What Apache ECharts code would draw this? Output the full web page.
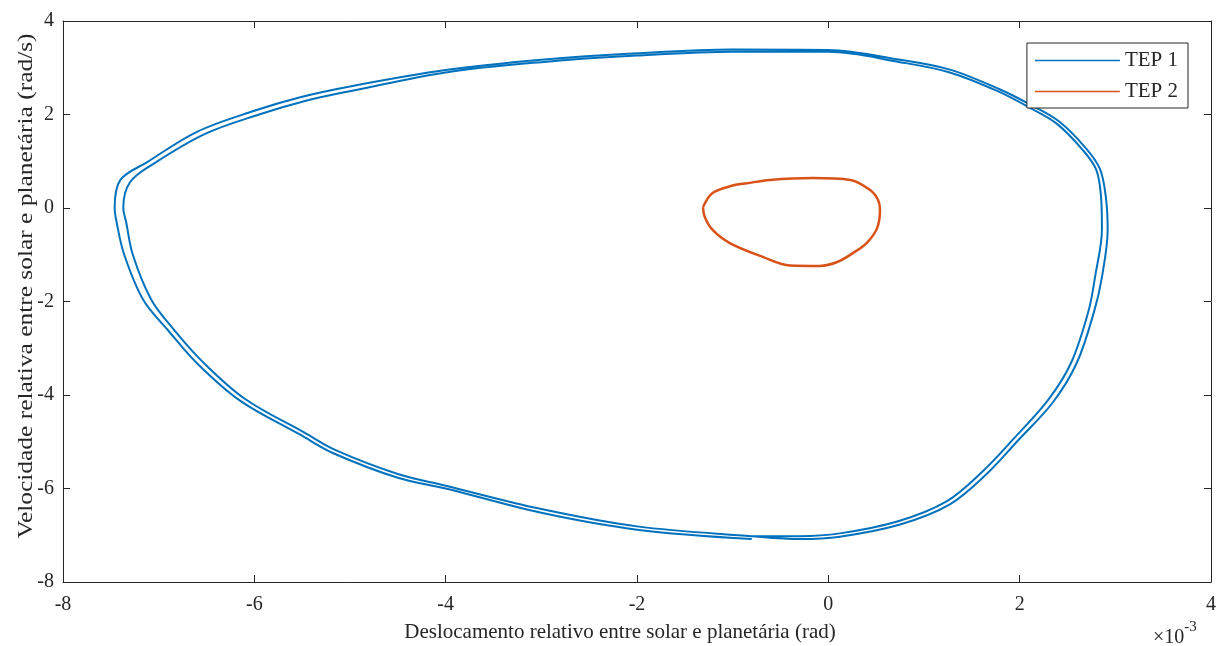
<!DOCTYPE html>
<html>
<head>
<meta charset="utf-8">
<script src="https://cdn.jsdelivr.net/npm/echarts@6/dist/echarts.min.js"></script>
<style>html,body{margin:0;padding:0;background:#fff}#c{width:1222px;height:646px}</style>
</head>
<body>
<div id="c"></div>
<script>
// x values in units of 1e-3 rad, y in rad/s
const xTicks = [-8, -6, -4, -2, 0, 2, 4];
const yTicks = [-8, -6, -4, -2, 0, 2, 4];

// TEP 1: two turns of the limit cycle (outer then inner), clockwise from the bottom
const tep1LoopA = [
  [-0.8, -7.08], [-2.0, -6.88], [-3.0, -6.52], [-4.0, -6.0], [-4.5, -5.77],
  [-5.18, -5.24], [-5.52, -4.85], [-6.15, -4.12], [-6.6, -3.32], [-6.9, -2.62],
  [-7.16, -1.97], [-7.36, -1.0], [-7.44, -0.3],
  [-7.46, 0.0], [-7.40, 0.6], [-7.12, 0.98], [-6.6, 1.63], [-6.0, 2.08], [-5.52, 2.37],
  [-5.0, 2.6], [-4.0, 2.95], [-3.0, 3.17], [-2.0, 3.31], [-1.0, 3.39], [0.0, 3.38],
  [0.75, 3.17], [1.27, 2.96], [1.79, 2.54], [2.14, 2.18], [2.42, 1.84], [2.70, 1.26],
  [2.84, 0.83], [2.90, 0.25], [2.92, -0.45], [2.86, -1.48], [2.78, -2.2], [2.6, -3.3],
  [2.35, -4.15], [1.97, -5.0], [1.66, -5.68], [1.27, -6.34], [0.75, -6.77], [0.12, -7.03],
  [-0.30, -7.08]
];
const tep1LoopB = [
  [-0.8, -7.02], [-2.0, -6.81], [-3.0, -6.44], [-4.0, -5.94], [-4.5, -5.69],
  [-5.15, -5.18], [-5.48, -4.8], [-6.1, -4.08], [-6.55, -3.27], [-6.85, -2.58],
  [-7.08, -1.95], [-7.27, -1.0], [-7.34, -0.3],
  [-7.37, 0.0], [-7.30, 0.55], [-7.05, 0.95], [-6.52, 1.58], [-5.95, 2.0], [-5.45, 2.3],
  [-4.95, 2.52], [-4.0, 2.9], [-3.0, 3.12], [-2.0, 3.26], [-1.0, 3.34], [0.0, 3.34],
  [0.75, 3.12], [1.27, 2.9], [1.77, 2.5], [2.12, 2.13], [2.39, 1.8], [2.66, 1.24],
  [2.80, 0.82], [2.85, 0.25], [2.86, -0.45], [2.79, -1.45], [2.72, -2.2], [2.54, -3.3],
  [2.30, -4.1], [1.93, -4.95], [1.62, -5.62], [1.24, -6.27], [0.73, -6.70], [0.12, -6.96],
  [-0.30, -7.02], [-0.8, -7.02]
];
const tep2Loop = [
  [-1.31, 0.02], [-1.21, 0.32], [-1.0, 0.48], [-0.85, 0.53], [-0.61, 0.6], [-0.16, 0.64],
  [0.23, 0.6], [0.44, 0.38], [0.52, 0.17], [0.54, -0.04], [0.51, -0.43], [0.40, -0.75],
  [0.26, -0.96], [0.1, -1.15], [-0.09, -1.24], [-0.4, -1.23], [-0.68, -1.05],
  [-1.03, -0.75], [-1.21, -0.47], [-1.29, -0.2], [-1.31, 0.02]
];

const tep1 = tep1LoopA.concat(tep1LoopB);
const FONT = 'Liberation Serif';
const TXT = '#262626';

const baseAxis = {
  type: 'value', min: -8, max: 4, interval: 2,
  axisLine: { show: true, onZero: false, lineStyle: { color: TXT, width: 1 } },
  axisTick: { show: true, inside: true, length: 7, lineStyle: { color: TXT } },
  splitLine: { show: false }
};

const chart = echarts.init(document.getElementById('c'), null, { renderer: 'canvas' });
chart.setOption({
  animation: false,
  backgroundColor: '#fff',
  grid: { left: 63, right: 11, top: 21, bottom: 64, containLabel: false },
  legend: {
    data: [{ name: 'TEP 1', icon: 'rect' }, { name: 'TEP 2', icon: 'rect' }],
    orient: 'vertical', right: 34, top: 43,
    itemWidth: 85, itemHeight: 1.5, itemGap: 10, padding: [7, 10, 6, 8],
    backgroundColor: '#fff', borderColor: '#262626', borderWidth: 1, borderRadius: 0,
    textStyle: { fontFamily: FONT, fontSize: 21, color: TXT }
  },
  xAxis: [
    Object.assign({}, baseAxis, {
      position: 'bottom',
      axisLabel: { fontFamily: FONT, fontSize: 20, color: TXT, margin: 13, customValues: xTicks }
    }),
    Object.assign({}, baseAxis, { position: 'top', axisLabel: { show: false } })
  ],
  yAxis: [
    Object.assign({}, baseAxis, {
      position: 'left',
      axisLabel: { fontFamily: FONT, fontSize: 20, color: TXT, margin: 9, customValues: yTicks }
    }),
    Object.assign({}, baseAxis, { position: 'right', axisLabel: { show: false } })
  ],
  graphic: [
    {
      type: 'text', x: 620, y: 632,
      style: {
        text: 'Deslocamento relativo entre solar e planetária (rad)',
        font: '21px "Liberation Serif"', fill: TXT, align: 'center', verticalAlign: 'middle'
      }
    },
    {
      type: 'text', x: 26, y: 286, rotation: Math.PI / 2, scaleX: 1.21, scaleY: 1,
      style: {
        text: 'Velocidade relativa entre solar e planetária (rad/s)',
        font: '21px "Liberation Serif"', fill: TXT, align: 'center', verticalAlign: 'middle'
      }
    },
    {
      type: 'text', left: 1153, top: 620,
      style: {
        text: '{a|×10}{b|-3}',
        rich: {
          a: { fontFamily: FONT, fontSize: 20, fill: TXT, padding: [8, 0, 0, 0] },
          b: { fontFamily: FONT, fontSize: 15, fill: TXT, verticalAlign: 'top' }
        }
      }
    }
  ],
  series: [
    {
      name: 'TEP 1', type: 'line', data: tep1, xAxisIndex: 0, yAxisIndex: 0,
      symbol: 'none', smooth: 0.35, lineStyle: { color: '#0072BD', width: 2 },
      itemStyle: { color: '#0072BD' }
    },
    {
      name: 'TEP 2', type: 'line', data: tep2Loop, xAxisIndex: 0, yAxisIndex: 0,
      symbol: 'none', smooth: 0.35, lineStyle: { color: '#D95319', width: 2.5 },
      itemStyle: { color: '#D95319' }
    }
  ]
});
</script>
</body>
</html>
